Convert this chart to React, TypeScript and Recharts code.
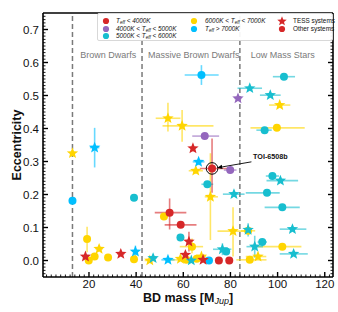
import React from 'react'
import {
  ErrorBar,
  Label,
  Legend,
  ReferenceDot,
  ReferenceLine,
  Scatter,
  ScatterChart,
  XAxis,
  YAxis,
} from 'recharts'

const FONT = '"Liberation Sans", Arial, Helvetica, sans-serif'

// Teff colour classes
const RED = '#d62728'
const PURPLE = '#9467bd'
const TEAL = '#17becf'
const GOLD = '#ffd500'
const SKY = '#00bfff'

// [mass MJup, ecc, -dm, +dm, -de, +de]
type Pt = number[]

const goldStars: Pt[] = [
  [13.0, 0.325, 0.8, 0.8, 0.01, 0.01],
  [53.5, 0.431, 5.2, 5.3, 0.04, 0.047],
  [59.5, 0.408, 8.3, 13.3, 0.048, 0.048],
  [100.9, 0.471, 4.5, 4.5, 0.008, 0.008],
  [65.3, 0.272, 3, 3, 0.01, 0.01],
  [71.5, 0.193, 2.4, 3.2, 0.131, 0.132],
  [81.1, 0.089, 6.6, 7.1, 0.077, 0.072],
  [24.3, 0.035, 1.5, 1.5, 0.005, 0.005],
  [45.8, 0.0, 2.2, 2.2, 0, 0],
  [58.8, 0.005, 1.5, 1.5, 0, 0],
  [67.7, 0.012, 2, 2, 0.005, 0.005],
  [91.7, 0.012, 5.2, 3.5, 0.005, 0.005],
]

const goldCircles: Pt[] = [
  [99.7, 0.402, 11.2, 11.8, 0.005, 0.005],
  [19.2, 0.065, 0.5, 0.5, 0.04, 0.037],
  [19.9, 0.0, 0.5, 0.5, 0, 0],
  [22.4, 0.012, 0.6, 0.6, 0.01, 0.01],
  [28.1, 0.009, 0.5, 0.5, 0, 0],
  [39.1, 0.004, 0.5, 0.5, 0, 0],
  [51.8, 0.133, 1.5, 1.5, 0.01, 0.01],
  [61.3, 0.002, 6.5, 6.5, 0, 0],
  [63.7, 0.042, 5.2, 4.7, 0.02, 0.025],
  [65.7, 0.005, 2, 2, 0, 0],
  [102, 0.042, 10.3, 8.1, 0.005, 0.005],
  [88.2, 0.002, 5.7, 7.1, 0, 0],
  [87.5, 0.09, 3, 3, 0.005, 0.005],
]

const redStars: Pt[] = [
  [64.1, 0.34, 1, 1, 0.01, 0.01],
  [18.5, 0.012, 1.5, 1.5, 0.005, 0.005],
  [33.5, 0.02, 1.5, 1.5, 0, 0],
  [62.4, 0.057, 1, 1, 0.03, 0.03],
  [60.9, 0.017, 1, 1, 0.01, 0.01],
  [68.4, 0.002, 1, 1, 0, 0],
]

const redCircles: Pt[] = [
  [54.2, 0.145, 6.3, 7.1, 0.051, 0.043],
  [58.9, 0.108, 6.8, 6.7, 0.005, 0.005],
  [75.1, 0.0, 1, 1, 0, 0],
  [79.5, 0.0, 1, 1, 0, 0],
]

const toi6508b: Pt[] = [[72.2, 0.279, 5.2, 8.2, 0.074, 0.091]]

const purpleStars: Pt[] = [[83.2, 0.491, 1.5, 1.5, 0.005, 0.005]]

const purpleCircles: Pt[] = [
  [69.1, 0.377, 5.3, 6.1, 0, 0],
  [79.9, 0.274, 2.7, 2.7, 0, 0],
]

const tealStars: Pt[] = [
  [88.2, 0.522, 5.2, 5.2, 0.005, 0.005],
  [96.9, 0.501, 4.4, 4.4, 0, 0],
  [101.2, 0.242, 5.9, 7.5, 0, 0],
  [81.5, 0.201, 4.7, 4.5, 0, 0],
  [106.3, 0.095, 5.4, 5.9, 0, 0],
  [106.8, 0.02, 5.9, 6, 0, 0],
  [76.6, 0.034, 4, 3.8, 0.018, 0.018],
  [90.3, 0.042, 3.5, 3.5, 0.033, 0.033],
  [47.2, 0.007, 1.5, 1.5, 0, 0],
  [63.4, 0.0, 1.5, 1.5, 0, 0],
  [87.5, 0.093, 1, 1, 0.02, 0.02],
]

const tealCircles: Pt[] = [
  [102.7, 0.557, 4.7, 4.7, 0, 0],
  [94.5, 0.395, 3.5, 3, 0, 0],
  [97.8, 0.256, 2.8, 2.8, 0, 0],
  [70.2, 0.231, 2.5, 2.5, 0, 0],
  [95.5, 0.205, 9, 5.4, 0, 0],
  [102, 0.161, 7.5, 7.4, 0, 0],
  [58.8, 0.07, 1, 1, 0.005, 0.005],
  [78.2, 0.027, 1.5, 1.5, 0.01, 0.01],
  [39.1, 0.19, 0.5, 0.5, 0.005, 0.005],
  [93.5, 0.056, 2, 2, 0, 0],
]

const skyStars: Pt[] = [
  [22.4, 0.342, 2, 2, 0.06, 0.06],
  [66.5, 0.299, 2.5, 2.5, 0.01, 0.01],
  [39.7, 0.027, 1, 1, 0.018, 0.018],
  [53.5, 0.002, 2.8, 2.8, 0, 0],
]

const skyCircles: Pt[] = [
  [67.7, 0.562, 7.1, 7.3, 0.03, 0.03],
  [13.0, 0.181, 1.2, 1.2, 0, 0],
  [70.9, 0.0, 1, 1, 0, 0],
]

// region boundaries (MJup)
const boundaries = [13, 42.5, 84]
const regions = [
  { name: 'Brown Dwarfs', m: 28.2 },
  { name: 'Massive Brown Dwarfs', m: 64.4 },
  { name: 'Low Mass Stars', m: 102.2 },
]

const X_DOMAIN = [0.5, 123.5]
const Y_DOMAIN = [-0.05, 0.75]
const xTicks: number[] = []
for (let v = 2; v <= 122; v += 2) xTicks.push(v)
const yTicks: number[] = []
for (let i = -4; i <= 74; i++) yTicks.push(i / 100)

const rows = (pts: Pt[]) =>
  pts.map(([m, e, ml = 0, mh = ml, el = 0, eh = el]) => ({ m, e, ex: [ml, mh], ey: [el, eh] }))

function starPoints(cx: number, cy: number, R: number, r: number) {
  const pts: string[] = []
  for (let i = 0; i < 10; i++) {
    const a = -Math.PI / 2 + (i * Math.PI) / 5
    const rad = i % 2 === 0 ? R : r
    pts.push(`${cx + rad * Math.cos(a)},${cy + rad * Math.sin(a)}`)
  }
  return pts.join(' ')
}

const starShape = (color: string) => (p: any) =>
  <polygon points={starPoints(p.cx, p.cy, 6, 2.6)} fill={color} />
const dotShape = (color: string) => (p: any) => <circle cx={p.cx} cy={p.cy} r={4} fill={color} />
const toiShape = (p: any) => (
  <g>
    <circle cx={p.cx} cy={p.cy} r={4} fill={RED} />
    <circle cx={p.cx} cy={p.cy} r={5.8} fill="none" stroke="#000" strokeWidth={1} />
  </g>
)

const SERIES = [
  { key: 'goldCircles', data: goldCircles, color: GOLD, shape: dotShape(GOLD) },
  { key: 'tealCircles', data: tealCircles, color: TEAL, shape: dotShape(TEAL) },
  { key: 'skyCircles', data: skyCircles, color: SKY, shape: dotShape(SKY) },
  { key: 'purpleCircles', data: purpleCircles, color: PURPLE, shape: dotShape(PURPLE) },
  { key: 'redCircles', data: redCircles, color: RED, shape: dotShape(RED) },
  { key: 'goldStars', data: goldStars, color: GOLD, shape: starShape(GOLD) },
  { key: 'tealStars', data: tealStars, color: TEAL, shape: starShape(TEAL) },
  { key: 'skyStars', data: skyStars, color: SKY, shape: starShape(SKY) },
  { key: 'purpleStars', data: purpleStars, color: PURPLE, shape: starShape(PURPLE) },
  { key: 'redStars', data: redStars, color: RED, shape: starShape(RED) },
  { key: 'toi', data: toi6508b, color: RED, shape: toiShape },
]

const GAP = 3
const isXMajor = (v: number) => v % 20 === 0
const isYMajor = (v: number) => Math.round(v * 100) % 10 === 0

const BottomTick = (p: any) => {
  const v = p.payload.value
  const major = isXMajor(v)
  const y0 = p.y - GAP
  return (
    <g>
      <line x1={p.x} x2={p.x} y1={y0} y2={y0 - (major ? 5 : 2.5)} stroke="#000" strokeWidth={major ? 1.4 : 0.9} />
      {major && (
        <text x={p.x} y={p.y} dy="0.71em" textAnchor="middle" fontSize={11.5} fill="#111" fontFamily={FONT}>
          {v}
        </text>
      )}
    </g>
  )
}

const TopTick = (p: any) => {
  const major = isXMajor(p.payload.value)
  return <line x1={p.x} x2={p.x} y1={p.y} y2={p.y + (major ? 5 : 2.5)} stroke="#000" strokeWidth={major ? 1.4 : 0.9} />
}

const LeftTick = (p: any) => {
  const v = p.payload.value
  const major = isYMajor(v)
  const x0 = p.x + 4
  return (
    <g>
      <line x1={x0} x2={x0 + (major ? 5 : 2.5)} y1={p.y} y2={p.y} stroke="#000" strokeWidth={major ? 1.4 : 0.9} />
      {major && (
        <text x={p.x} y={p.y} dy="0.36em" textAnchor="end" fontSize={11.5} fill="#111" fontFamily={FONT}>
          {v.toFixed(1)}
        </text>
      )}
    </g>
  )
}

const RightTick = (p: any) => {
  const major = isYMajor(p.payload.value)
  return <line x1={p.x} x2={p.x - (major ? 5 : 2.5)} y1={p.y} y2={p.y} stroke="#000" strokeWidth={major ? 1.4 : 0.9} />
}

const XTitle = (p: any) => {
  const vb = p.viewBox
  return (
    <text x={vb.x + vb.width / 2} y={vb.y + 25} textAnchor="middle" fontSize={12.5} fontWeight="bold" fontFamily={FONT} fill="#111">
      BD mass [M
      <tspan fontStyle="italic" fontWeight="normal" fontSize={9} dy={2}>Jup</tspan>
      <tspan dy={-2}>]</tspan>
    </text>
  )
}

const YTitle = (p: any) => {
  const vb = p.viewBox
  const cx = 16
  const cy = vb.y + vb.height / 2
  return (
    <text x={cx} y={cy} dy="0.36em" textAnchor="middle" transform={`rotate(-90, ${cx}, ${cy})`} fontSize={12.5} fontWeight="bold" fontFamily={FONT} fill="#111">
      Eccentricity
    </text>
  )
}

const Arrow = (p: any) => {
  const { x1, y1, x2, y2 } = p
  const a = Math.atan2(y2 - y1, x2 - x1)
  const L = 5
  const w = 2.2
  const bx = x2 - L * Math.cos(a)
  const by = y2 - L * Math.sin(a)
  const pts = `${x2},${y2} ${bx + w * Math.sin(a)},${by - w * Math.cos(a)} ${bx - w * Math.sin(a)},${by + w * Math.cos(a)}`
  return (
    <g>
      <line x1={x1} y1={y1} x2={bx} y2={by} stroke="#000" strokeWidth={0.9} />
      <polygon points={pts} fill="#000" />
    </g>
  )
}

const Teff = () => (
  <span>
    T<span style={{ fontSize: '0.7em', position: 'relative', top: '0.25em' }}>eff</span>
  </span>
)

const LEGEND_ITEMS = [
  { color: RED, star: false, x: 7.5, y: 7, tx: 18, label: <i><Teff /> &lt; 4000K</i> },
  { color: PURPLE, star: false, x: 7.5, y: 14.5, tx: 18, label: <i>4000K &lt; <Teff /> &lt; 5000K</i> },
  { color: TEAL, star: false, x: 7.5, y: 22, tx: 18, label: <i>5000K &lt; <Teff /> &lt; 6000K</i> },
  { color: GOLD, star: false, x: 95.5, y: 7, tx: 107, label: <i>6000K &lt; <Teff /> &lt; 7000K</i> },
  { color: SKY, star: false, x: 95.5, y: 14.5, tx: 107, label: <i><Teff /> &gt; 7000K</i> },
  { color: RED, star: true, x: 184, y: 7, tx: 195, label: <span>TESS systems</span> },
  { color: RED, star: false, x: 184, y: 15, tx: 195, label: <span>Other systems</span> },
]

const LegendBox = () => (
  <div
    style={{
      position: 'relative',
      width: 236,
      height: 28,
      boxSizing: 'border-box',
      background: 'rgba(255,255,255,0.92)',
      border: '1px solid #d8d8d8',
      borderRadius: 2,
      fontFamily: FONT,
      fontSize: 6.4,
      color: '#111',
    }}
  >
    {LEGEND_ITEMS.map((it, i) => (
      <React.Fragment key={i}>
        <svg width={12} height={12} style={{ position: 'absolute', left: it.x - 6, top: it.y - 6 }}>
          {it.star ? (
            <polygon points={starPoints(6, 6.3, 5, 2.1)} fill={it.color} />
          ) : (
            <circle cx={6} cy={6} r={3.1} fill={it.color} />
          )}
        </svg>
        <span style={{ position: 'absolute', left: it.tx, top: it.y - 4, lineHeight: '8px', whiteSpace: 'nowrap' }}>
          {it.label}
        </span>
      </React.Fragment>
    ))}
  </div>
)

const axisLine = { stroke: '#000', strokeWidth: 1.6 }

export default function App() {
  return (
    <div style={{ position: 'absolute', left: 0, top: 0, width: 338, height: 312, background: '#fff' }}>
      <ScatterChart width={338} height={312} margin={{ top: 12, right: 4, bottom: 0, left: 0 }}>
        <XAxis
          dataKey="m"
          type="number"
          domain={X_DOMAIN}
          allowDataOverflow
          ticks={xTicks}
          interval={0}
          height={35}
          tickSize={0}
          tickMargin={GAP}
          tickLine={false}
          axisLine={axisLine}
          tick={BottomTick}
        >
          <Label content={XTitle} />
        </XAxis>
        <XAxis
          xAxisId="top"
          orientation="top"
          type="number"
          domain={X_DOMAIN}
          allowDataOverflow
          ticks={xTicks}
          interval={0}
          height={1}
          tickSize={0}
          tickMargin={0}
          tickLine={false}
          axisLine={axisLine}
          tick={TopTick}
        />
        <YAxis
          dataKey="e"
          type="number"
          domain={Y_DOMAIN}
          allowDataOverflow
          ticks={yTicks}
          interval={0}
          width={43}
          tickSize={0}
          tickMargin={4}
          tickLine={false}
          axisLine={axisLine}
          tick={LeftTick}
        >
          <Label content={YTitle} />
        </YAxis>
        <YAxis
          yAxisId="right"
          orientation="right"
          type="number"
          domain={Y_DOMAIN}
          allowDataOverflow
          ticks={yTicks}
          interval={0}
          width={1}
          tickSize={0}
          tickMargin={0}
          tickLine={false}
          axisLine={axisLine}
          tick={RightTick}
        />

        {boundaries.map((b) => (
          <ReferenceLine key={b} x={b} stroke="#7a7a7a" strokeWidth={1.5} strokeDasharray="5 3" />
        ))}
        {regions.map((r) => (
          <ReferenceDot
            key={r.name}
            x={r.m}
            y={0.623}
            r={0}
            shape={(p: any) => (
              <text x={p.cx} y={p.cy} dy="0.36em" textAnchor="middle" fontSize={9} fill="#7a7a7a" fontFamily={FONT}>
                {r.name}
              </text>
            )}
          />
        ))}

        {SERIES.map((s) => (
          <Scatter key={s.key} data={rows(s.data)} isAnimationActive={false} shape={s.shape}>
            <ErrorBar dataKey="ex" direction="x" width={0} stroke={s.color} strokeOpacity={0.6} strokeWidth={1.6} />
            <ErrorBar dataKey="ey" direction="y" width={0} stroke={s.color} strokeOpacity={0.6} strokeWidth={1.6} />
          </Scatter>
        ))}

        <ReferenceLine
          segment={[
            { x: 88.9, y: 0.299 },
            { x: 74.4, y: 0.281 },
          ]}
          shape={Arrow}
        />
        <ReferenceDot
          x={89.6}
          y={0.315}
          r={0}
          shape={(p: any) => (
            <text x={p.cx} y={p.cy} dy="0.36em" textAnchor="start" fontSize={7.2} fontWeight="bold" fill="#111" fontFamily={FONT}>
              TOI-6508b
            </text>
          )}
        />

        <Legend
          layout="horizontal"
          verticalAlign="middle"
          align="center"
          wrapperStyle={{ position: 'absolute', left: 97, top: 13, width: 236, height: 28 }}
          content={() => <LegendBox />}
        />
      </ScatterChart>
    </div>
  )
}
